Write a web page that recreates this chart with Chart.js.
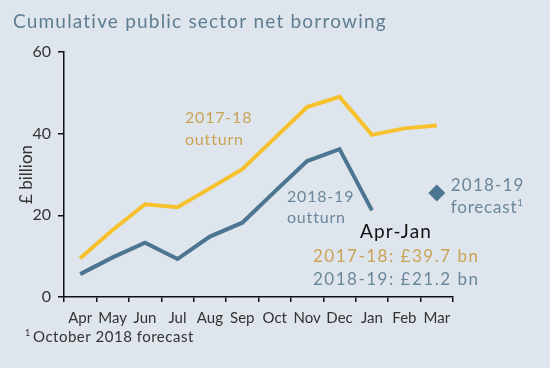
<!DOCTYPE html>
<html>
<head>
<meta charset="utf-8">
<script src="https://cdn.jsdelivr.net/npm/chart.js@4.4.1/dist/chart.umd.min.js"></script>
<style>
  html, body { margin: 0; padding: 0; background: #dfe5ec; }
  #wrap { width: 550px; height: 368px; position: relative; }
</style>
</head>
<body>
<div id="wrap"><canvas id="chart"></canvas></div>
<script>
const months = ["Apr", "May", "Jun", "Jul", "Aug", "Sep", "Oct", "Nov", "Dec", "Jan", "Feb", "Mar"];
const outturn1718 = [9.5, 16.4, 22.7, 22.0, 26.6, 31.3, 38.9, 46.5, 49.0, 39.7, 41.3, 42.0];
const outturn1819 = [5.6, 9.7, 13.3, 9.3, 14.8, 18.2, 25.8, 33.3, 36.2, 21.2, null, null];
const forecast1819 = [null, null, null, null, null, null, null, null, null, null, null, 25.5];
const yTicks = [0, 20, 40, 60];

const FONT = "Lato, 'DejaVu Sans', sans-serif";
const YELLOW = "#f6c12c";
const BLUE = "#4b7590";
const GOLD_TEXT = "#c9a455";
const BLUE_TEXT = "#6a879b";

function text(ctx, str, x, y, size, color, spacing) {
    ctx.font = `${size}px ${FONT}`;
    ctx.fillStyle = color;
    ctx.letterSpacing = `${spacing}px`;
    ctx.fillText(str, x, y);
    return ctx.measureText(str).width;
}

// titles, footnote and labels drawn on the canvas
const textPlugin = {
    id: "textPlugin",
    afterDraw(chart) {
        const ctx = chart.ctx;
        const x = chart.scales.x;
        const y = chart.scales.y;
        ctx.save();
        ctx.textBaseline = "middle";
        ctx.textAlign = "left";

        text(ctx, "Cumulative public sector net borrowing", 13, 22, 19, "#5e7d92", 1.2);

        text(ctx, "1", 25, 333, 9, "#333", 0);
        text(ctx, "October 2018 forecast", 33, 337, 15, "#333", 0.5);

        text(ctx, "2017-18", 185, 118, 16, GOLD_TEXT, 0.8);
        text(ctx, "outturn", 185, 140, 16, GOLD_TEXT, 0.8);

        text(ctx, "2018-19", 287, 197, 16, BLUE_TEXT, 0.8);
        text(ctx, "outturn", 287, 218, 16, BLUE_TEXT, 0.8);

        const fx = x.getPixelForValue(11) + 14;
        const fy = y.getPixelForValue(25.5);
        text(ctx, "2018-19", fx, fy - 7, 17, BLUE_TEXT, 1.2);
        const fw = text(ctx, "forecast", fx, fy + 15, 17, BLUE_TEXT, 0.8);
        text(ctx, "1", fx + fw, fy + 10, 10, BLUE_TEXT, 0);

        text(ctx, "Apr-Jan", 360, 232, 19, "#111", 1.2);
        text(ctx, "2017-18: £39.7 bn", 313, 257, 17, GOLD_TEXT, 1.5);
        text(ctx, "2018-19: £21.2 bn", 313, 280, 17, BLUE_TEXT, 1.5);
        ctx.restore();
    }
};

new Chart(document.getElementById("chart"), {
    type: "line",
    data: {
        labels: months,
        datasets: [
            {
                label: "2017-18 outturn",
                data: outturn1718,
                borderColor: YELLOW,
                borderWidth: 4,
                pointRadius: 0,
                tension: 0
            },
            {
                label: "2018-19 outturn",
                data: outturn1819,
                borderColor: BLUE,
                borderWidth: 4,
                pointRadius: 0,
                tension: 0
            },
            {
                label: "2018-19 forecast",
                data: forecast1819,
                showLine: false,
                pointStyle: "rectRot",
                pointRadius: 8.5,
                backgroundColor: BLUE,
                borderColor: BLUE,
                borderWidth: 0
            }
        ]
    },
    options: {
        responsive: true,
        maintainAspectRatio: false,
        animation: false,
        layout: {
            padding: { left: 16, right: 97, top: 52, bottom: 41 }
        },
        plugins: {
            legend: { display: false },
            tooltip: { enabled: false }
        },
        scales: {
            x: {
                offset: true,
                grid: {
                    offset: true,
                    drawOnChartArea: false,
                    tickLength: 5,
                    color: "#111",
                    lineWidth: 1.5
                },
                border: { color: "#111", width: 1.5 },
                ticks: {
                    color: "#333",
                    font: { family: FONT, size: 15 },
                    padding: 7,
                    maxRotation: 0,
                    autoSkip: false
                },
                afterFit(scale) { scale.height = 30; }
            },
            y: {
                min: 0,
                max: 60,
                afterBuildTicks(scale) {
                    scale.ticks = yTicks.map(v => ({ value: v }));
                },
                grid: {
                    drawOnChartArea: false,
                    tickLength: 6,
                    color: "#111",
                    lineWidth: 1.5
                },
                border: { color: "#111", width: 1.5 },
                ticks: {
                    color: "#333",
                    font: { family: FONT, size: 16 },
                    padding: 7
                },
                title: {
                    display: true,
                    text: "£ billion",
                    color: "#333",
                    font: { family: FONT, size: 17 },
                    padding: { top: 0, bottom: 0 }
                },
                afterFit(scale) { scale.width = 48; }
            }
        }
    },
    plugins: [textPlugin]
});
</script>
</body>
</html>
